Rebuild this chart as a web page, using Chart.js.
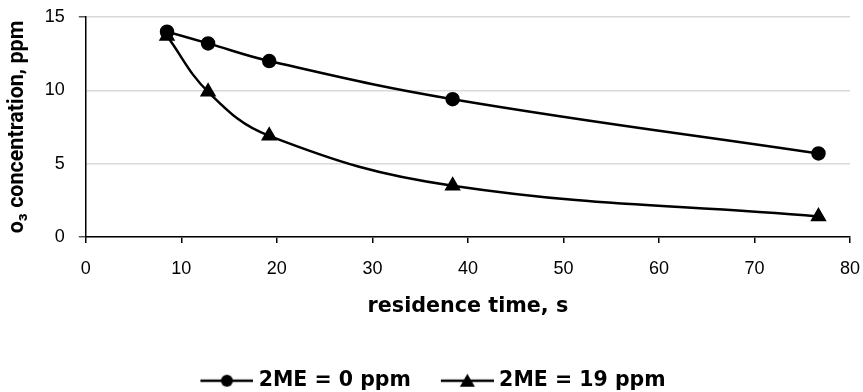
<!DOCTYPE html>
<html>
<head>
<meta charset="utf-8">
<script src="https://cdn.jsdelivr.net/npm/chart.js@4/dist/chart.umd.min.js"></script>
<style>
  html, body { margin: 0; padding: 0; background: #fff; }
  #wrap { width: 863px; height: 392px; position: relative; }
</style>
</head>
<body>
<div id="wrap"><canvas id="chart"></canvas></div>
<script>
// residence time (s) and O3 concentration (ppm)
const residenceTime = [8.5, 12.8, 19.2, 38.4, 76.7];
const o3NoAdditive = [14.0, 13.2, 12.0, 9.4, 5.7];
const o3With2ME = [13.7, 9.9, 6.9, 3.5, 1.4];
const seriesNames = ["2ME = 0 ppm", "2ME = 19 ppm"];

const toPoints = (ys) => ys.map((y, i) => ({ x: residenceTime[i], y }));

// legend symbol: short line with the marker in the middle.
// the image is wider than the legend box so the text sits close to it
function legendSymbol(style) {
  const c = document.createElement("canvas");
  c.width = 74; c.height = 18;
  const g = c.getContext("2d");
  g.strokeStyle = "#000";
  g.lineWidth = 2.5;
  g.beginPath(); g.moveTo(21, 9); g.lineTo(74, 9); g.stroke();
  g.fillStyle = "#000";
  g.beginPath();
  if (style === "circle") {
    g.arc(47.5, 9, 6, 0, Math.PI * 2);
  } else {
    g.moveTo(47.5, 2); g.lineTo(55, 15); g.lineTo(40, 15); g.closePath();
  }
  g.fill();
  return c;
}

const tickFont = { family: "'Liberation Sans', Arial, sans-serif", size: 18 };

// tick padding should not push the plot edges in
const noEdgePadding = (scale) => {
  if (scale.isHorizontal()) { scale.paddingLeft = 0; scale.paddingRight = 0; }
  else { scale.paddingTop = 0; scale.paddingBottom = 0; }
};

new Chart(document.getElementById("chart"), {
  type: "line",
  data: {
    datasets: [
      {
        label: seriesNames[0],
        data: toPoints(o3NoAdditive),
        borderColor: "#000",
        backgroundColor: "#000",
        borderWidth: 2.5,
        pointStyle: "circle",
        pointRadius: 6,
        tension: 0.4,
        legendImg: legendSymbol("circle"),
      },
      {
        label: seriesNames[1],
        data: toPoints(o3With2ME),
        borderColor: "#000",
        backgroundColor: "#000",
        borderWidth: 2.5,
        pointStyle: "triangle",
        pointRadius: 7,
        tension: 0.4,
        legendImg: legendSymbol("triangle"),
      },
    ],
  },
  options: {
    responsive: true,
    maintainAspectRatio: false,
    animation: false,
    layout: { padding: { left: 0, right: 13, top: 17, bottom: -9 } },
    plugins: {
      tooltip: { enabled: false },
      legend: {
        position: "bottom",
        labels: {
          usePointStyle: true,
          pointStyleWidth: 64,
          padding: 14,
          color: "#000",
          font: { family: "'DejaVu Sans', sans-serif", size: 20.5, weight: "bold" },
          generateLabels: (chart) =>
            chart.data.datasets.map((ds, i) => ({
              text: ds.label,
              pointStyle: ds.legendImg,
              datasetIndex: i,
              fontColor: "#000",
              lineWidth: 0,
            })),
        },
      },
    },
    scales: {
      x: {
        type: "linear",
        min: 0,
        max: 80,
        afterFit: noEdgePadding,
        ticks: { stepSize: 10, color: "#000", font: tickFont, padding: 15 },
        grid: { drawOnChartArea: false, drawTicks: true, tickLength: 6, tickColor: "#000", lineWidth: 1.5 },
        border: { color: "#000", width: 1.5 },
        title: {
          display: true,
          text: "residence time, s",
          color: "#000",
          font: { family: "'DejaVu Sans', sans-serif", size: 20.7, weight: "bold" },
          padding: { top: 0, bottom: 37 },
        },
      },
      y: {
        min: 0,
        max: 15,
        afterFit: noEdgePadding,
        ticks: { stepSize: 5, color: "#000", font: tickFont, padding: 14 },
        grid: {
          color: "#d9d9d9",
          lineWidth: 1.5,
          tickLength: 7,
          tickColor: (ctx) => (ctx.tick && (ctx.tick.value === 0 || ctx.tick.value === 15) ? "#555" : "rgba(0,0,0,0)"),
        },
        border: { color: "#000", width: 1.5 },
        title: {
          display: true,
          text: "o\u2083 concentration, ppm",
          color: "#000",
          font: { family: "Roboto, 'Noto Sans', sans-serif", size: 21.5, weight: "bold" },
          padding: { top: 5, bottom: 0 },
        },
      },
    },
  },
});
</script>
</body>
</html>
